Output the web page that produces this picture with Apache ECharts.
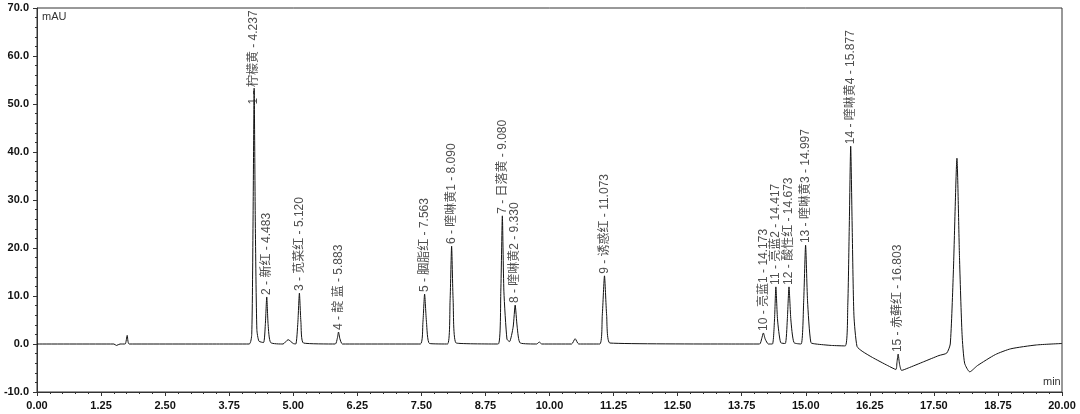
<!DOCTYPE html>
<html><head><meta charset="utf-8">
<script src="https://cdn.jsdelivr.net/npm/echarts@6/dist/echarts.min.js"></script>
<style>html,body{margin:0;padding:0;background:#fff}#c{width:1080px;height:414px}</style>
</head><body><div id="c"></div>
<script>
// chromatogram trace points [time (min), signal (mAU)]
const trace = [
 [0,0],[1.5,0],[1.55,-0.3],[1.62,0],[1.72,0],[1.76,1.8],[1.8,0],[3.5,0],[4.14,0],
 [4.19,2],[4.215,25],[4.237,53.3],[4.26,25],[4.29,3],[4.33,0.6],
 [4.42,0.3],[4.455,4],[4.483,9.8],[4.51,4],[4.56,0.3],
 [4.8,0],[4.9,0.9],[5.0,0.1],
 [5.05,0],[5.09,4.5],[5.12,10.6],[5.15,4.5],[5.2,0.2],
 [5.82,0],[5.86,1.2],[5.883,2.5],[5.91,1.1],[5.96,0],
 [7.48,0],[7.53,4.5],[7.563,10.4],[7.6,4.5],[7.66,0.1],
 [8.01,0],[8.06,9],[8.09,20.4],[8.12,9],[8.18,0.2],
 [9.0,0],[9.05,11],[9.08,26.7],[9.11,11],[9.17,1],[9.22,0.5],[9.29,3.5],[9.33,8.1],[9.37,3.5],[9.43,0.2],
 [9.75,0],[9.8,0.4],[9.85,0],
 [10.43,0],[10.5,1.1],[10.57,0],
 [10.98,0],[11.03,6],[11.073,14.2],[11.115,6],[11.18,0.2],
 [13.5,0],[14.1,0],[14.14,1.1],[14.173,2.3],[14.21,1],[14.27,0],
 [14.35,0],[14.39,5],[14.417,11.9],[14.45,5],[14.51,0.3],
 [14.6,0.1],[14.64,5],[14.673,11.9],[14.71,5],[14.77,0.3],
 [14.91,0],[14.96,9],[14.997,20.6],[15.035,9],[15.1,0.3],[15.2,0],
 [15.5,-0.3],[15.77,-0.4],[15.82,8],[15.85,25],[15.877,41.2],[15.905,25],[15.94,6],[16.0,-0.5],[16.1,-1.5],
 [16.3,-2.8],[16.6,-4.5],[16.76,-5.3],[16.78,-3.8],[16.803,-2.1],[16.83,-4.2],[16.87,-5.5],
 [17.0,-5.0],[17.3,-3.7],[17.6,-2.4],[17.75,-1.9],[17.82,0],[17.88,15],[17.95,38.7],[18.0,18],[18.05,2],
 [18.1,-4],[18.2,-5.8],[18.35,-4.5],[18.7,-2.2],[19.0,-1.0],[19.5,-0.2],[20,0.1]
];
const peakNames = ['柠檬黄','新红','苋菜红','靛 蓝','胭脂红','喹啉黄1','日落黄','喹啉黄2','诱惑红','亮蓝1','亮蓝2','酸性红','喹啉黄3','喹啉黄4','赤藓红'];
const peakTimes = [4.237,4.483,5.120,5.883,7.563,8.090,9.080,9.330,11.073,14.173,14.417,14.673,14.997,15.877,16.803];
const peakLabelY = [49.5,9.8,10.6,2.5,10.4,20.4,26.7,8.1,14.2,2.3,11.9,11.9,20.6,41.2,-2.1];
const xTicks = ['0.00','1.25','2.50','3.75','5.00','6.25','7.50','8.75','10.00','11.25','12.50','13.75','15.00','16.25','17.50','18.75','20.00'];

const labels = peakTimes.map((t,i)=>({value:[t,peakLabelY[i]], name:(i+1)+' - '+peakNames[i]+' - '+t.toFixed(3)}));
const chart = echarts.init(document.getElementById('c'));
const font = 'Liberation Sans, Arial, sans-serif';
chart.setOption({
 animation:false,
 grid:{left:37,right:18,top:8,bottom:22,show:true,borderColor:'#333',borderWidth:1},
 xAxis:{type:'value',min:0,max:20,interval:1.25,
  axisLine:{onZero:false,lineStyle:{color:'#333'}},axisTick:{length:4,lineStyle:{color:'#333'}},
  minorTick:{show:true,splitNumber:5,length:2},splitLine:{show:false},
  axisLabel:{color:'#111',fontSize:11,fontFamily:font,fontWeight:'bold',formatter:v=>{const i=Math.round(v/1.25);return xTicks[i]||'';}}},
 yAxis:{type:'value',min:-10,max:70,interval:10,
  axisLine:{show:true,lineStyle:{color:'#333'}},axisTick:{length:4},
  minorTick:{show:true,splitNumber:5,length:2},splitLine:{show:false},
  axisLabel:{color:'#111',fontSize:11,fontFamily:font,fontWeight:'bold',formatter:v=>v.toFixed(1)}},
 graphic:[
  {type:'text',left:42,top:11,style:{text:'mAU',fontSize:11,fontFamily:font,fill:'#333'}},
  {type:'text',left:1043,top:376,style:{text:'min',fontSize:11,fontFamily:font,fill:'#333'}}
 ],
 series:[
  {type:'line',data:trace,symbol:'none',smooth:0.2,lineStyle:{color:'#111',width:1},z:2},
  {type:'scatter',data:labels,symbolSize:0,z:3,
   label:{show:true,formatter:p=>p.name,rotate:90,position:'top',align:'left',verticalAlign:'middle',distance:2,
     fontSize:12,color:'#222',fontFamily:'Liberation Sans, Noto Sans CJK SC, sans-serif'}}
 ]
});
</script></body></html>
